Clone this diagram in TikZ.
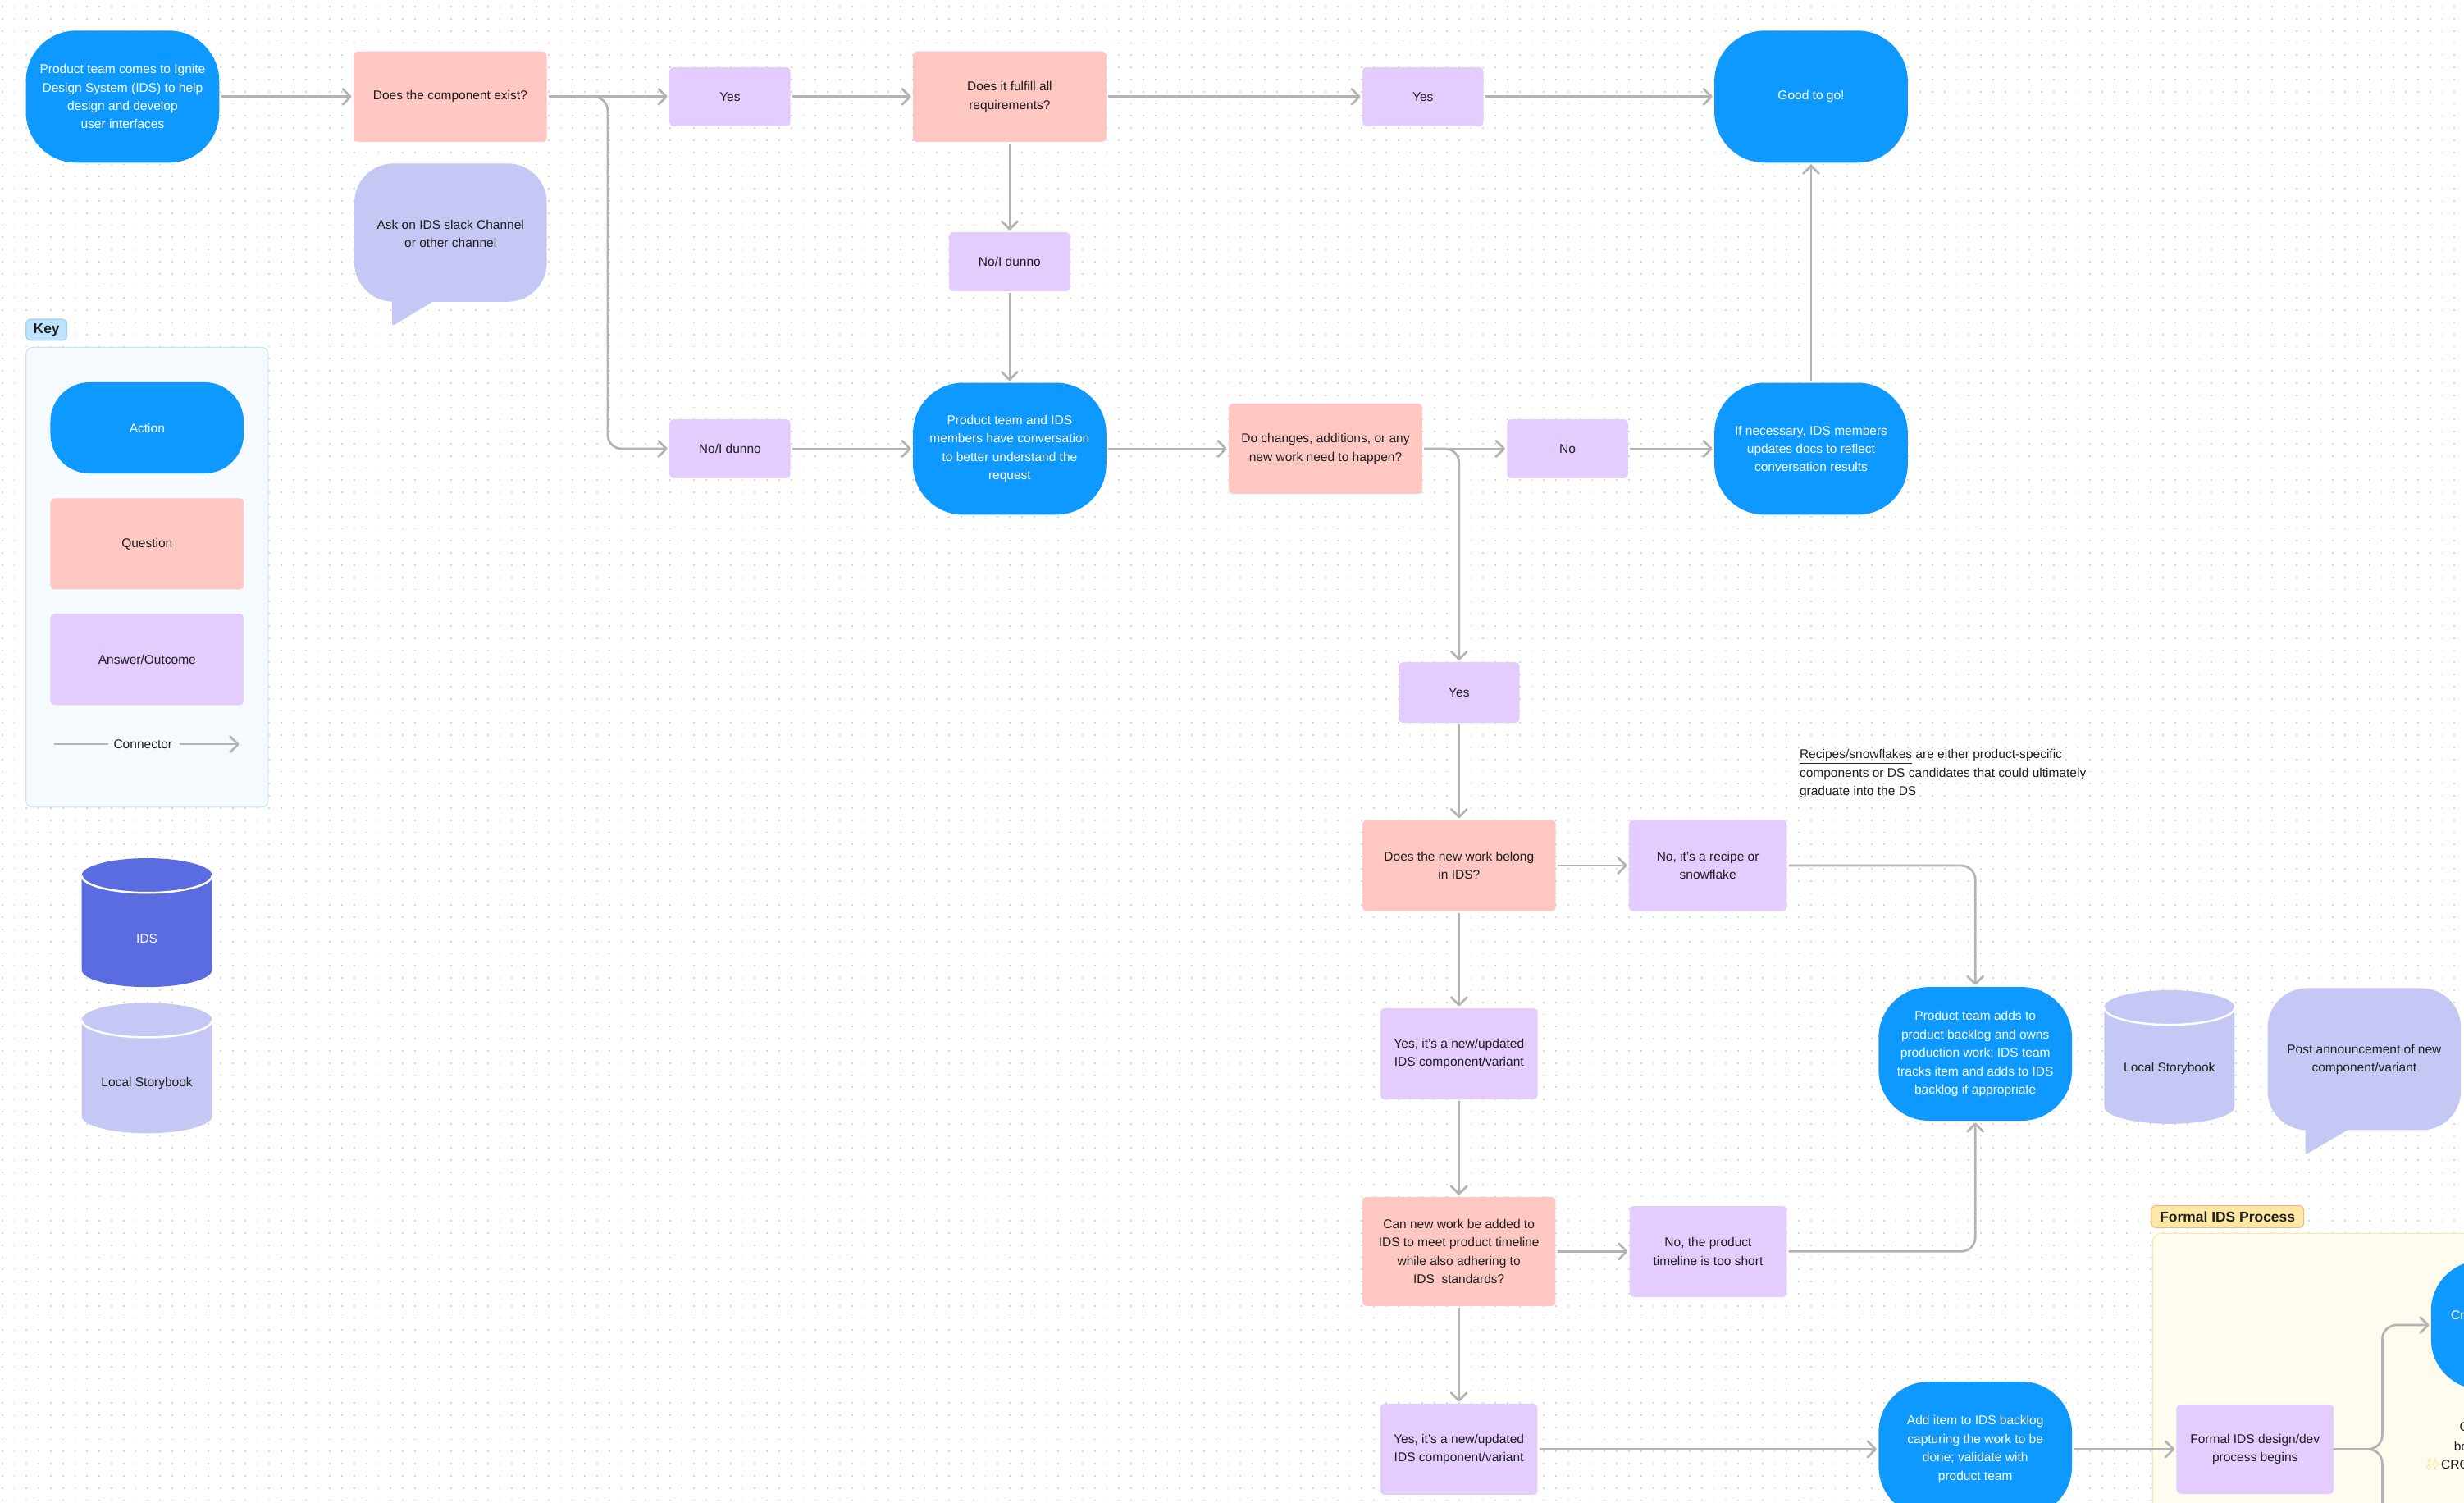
\documentclass[tikz,border=0pt]{standalone}
\usepackage{fontspec}
\setmainfont{Liberation Sans}
\newfontfamily\emojifont{Noto Emoji}
\usetikzlibrary{arrows.meta}
\definecolor{actblue}{HTML}{0D99FF}
\definecolor{qpink}{HTML}{FFC7C2}
\definecolor{apurple}{HTML}{E4CCFF}
\definecolor{bubcol}{HTML}{C5C8F4}
\definecolor{idscol}{HTML}{5B6BE0}
\definecolor{conncol}{HTML}{B3B3B3}
\definecolor{txtdark}{HTML}{1E1E1E}
\definecolor{dotcol}{HTML}{D6D6D6}
\definecolor{keyfill}{HTML}{F5FAFF}
\definecolor{keyedge}{HTML}{C9E3FA}
\definecolor{keylabfill}{HTML}{BDE3FF}
\definecolor{keylabedge}{HTML}{A6CFF2}
\definecolor{formfill}{HTML}{FFFBEF}
\definecolor{formedge}{HTML}{FBE7A8}
\definecolor{formlabfill}{HTML}{FFE8A3}
\definecolor{formlabedge}{HTML}{EDB98A}
\definecolor{sparkcol}{HTML}{F6DB7A}
\newcommand{\drawcyl}[5]{%
  \fill[#5] (#1,{#3+11}) -- (#1,{#4-11}) arc[start angle=180,end angle=0,x radius={(#2-#1)/2},y radius=11] -- (#2,{#3+11}) arc[start angle=0,end angle=-180,x radius={(#2-#1)/2},y radius=11] -- cycle;
  \draw[white,line width=1.3pt] (#1,{#3+11}) arc[start angle=180,end angle=0,x radius={(#2-#1)/2},y radius=11];}
\begin{document}
\begin{tikzpicture}[x=1pt,y=-1pt,
  every node/.style={font=\fontsize{8.1}{11.7}\selectfont, text=txtdark, align=center, inner sep=0pt},
  action/.style={fill=actblue, text=white, rounded corners=32pt, minimum width=123pt, minimum height=84pt},
  question/.style={fill=qpink, rounded corners=2.5pt, minimum width=123pt, minimum height=57.5pt},
  answer/.style={fill=apurple, rounded corners=2.5pt, minimum width=77pt, minimum height=37.5pt},
  wideanswer/.style={answer, minimum width=100pt, minimum height=57.5pt},
  conn/.style={draw=conncol, line width=1.4pt, -{Straight Barb[length=5pt,width=10pt,round]}, shorten >=1pt, shorten <=1pt},
  connplain/.style={draw=conncol, line width=1.4pt, line cap=round},
  bubble/.style={fill=bubcol},
  tag/.style={font=\fontsize{9.1}{11}\selectfont\bfseries, rounded corners=3pt, line width=0.6pt}
]
\useasboundingbox (0,0) rectangle (1568,956);
\clip (0,0) rectangle (1568,956);
\fill[white] (0,0) rectangle (1568,956);
\foreach \i in {0,...,123} {\draw[dotcol, line width=0.9pt, dash pattern=on 0.9pt off 6.825pt] (0.95,{4.2+\i*7.725}) -- (1568,{4.2+\i*7.725});}

% ---------- Key ----------
\node[draw=keyedge, fill=keyfill, rounded corners=4pt, line width=0.6pt, minimum width=154pt, minimum height=292.5pt] (keybox) at (93.6,367.3) {};
\node[tag, draw=keylabedge, fill=keylabfill, minimum width=26pt, minimum height=13.5pt] (keytag) at (29.6,209.8) {Key};
\node[action, rounded corners=25pt, minimum height=58pt] (keyaction) at (93.6,272.2) {Action};
\node[question, minimum height=58pt] (keyq) at (93.6,346) {Question};
\node[answer, minimum width=123pt, minimum height=58pt] (keya) at (93.6,419.5) {Answer/Outcome};
\coordinate (keyconnL) at (34.8,473.5);
\coordinate (keyconnR) at (152.2,473.5);
\node[inner xsep=3.6pt] (keyconntext) at (91,473.5) {Connector};
\draw[connplain] (keyconnL) -- (keyconntext);
\draw[conn, shorten >=0pt] (keyconntext) -- (keyconnR);

% ---------- cylinders ----------
\drawcyl{52}{135}{546}{628}{idscol}
\node[text=white] (idslabel) at (93.5,597) {IDS};
\drawcyl{52}{135}{638}{721}{bubcol}
\node (lsbleft) at (93.5,689) {Local Storybook};
\drawcyl{1339}{1422}{630}{715}{bubcol}
\node (lsbright) at (1380.5,680) {Local Storybook};

% ---------- speech bubbles ----------
\fill[bubble, rounded corners=25pt] (225.5,104) rectangle (348,192);
\fill[bubble, rounded corners=1.5pt] (249.6,178) -- (249.6,207.5) -- (276,191.5) -- (276,178) -- cycle;
\node (ask) at (286.7,148.6) {Ask on IDS slack Channel\\or other channel};
\fill[bubble, rounded corners=25pt] (1443,628.7) rectangle (1566,719);
\fill[bubble, rounded corners=1.5pt] (1467,705) -- (1467,734.7) -- (1494.6,718.5) -- (1494.6,705) -- cycle;
\node (post) at (1504.5,674.2) {Post announcement of new\\component/variant};

% ---------- formal process frame ----------
\node[draw=formedge, fill=formfill, rounded corners=5pt, line width=0.6pt, minimum width=300pt, minimum height=250pt, anchor=north west] (formalbox) at (1369.5,784.5) {};
\node[tag, draw=formlabedge, fill=formlabfill, minimum width=97pt, minimum height=14pt] (formaltag) at (1417.5,774) {Formal IDS Process};

% ---------- flow nodes ----------
\node[action] (start) at (78,61.5) {Product team comes to Ignite\\Design System (IDS) to help\\design and develop\\user interfaces};
\node[question] (q1) at (286.5,61.5) {Does the component exist?};
\node[answer] (yes1) at (464.5,61.5) {Yes};
\node[question] (q2) at (642.5,61.5) {Does it fulfill all\\requirements?};
\node[answer] (yes2) at (905.5,61.5) {Yes};
\node[action] (good) at (1152.5,61.5) {Good to go!};
\node[answer] (ni2) at (642.5,166.5) {No/I dunno};
\node[answer] (ni1) at (464.5,285.5) {No/I dunno};
\node[action] (conv) at (642.5,285.5) {Product team and IDS\\members have conversation\\to better understand the\\request};
\node[question] (q3) at (843.5,285.5) {Do changes, additions, or any\\new work need to happen?};
\node[answer] (no) at (997.5,285.5) {No};
\node[action] (ifnec) at (1152.5,285.5) {If necessary, IDS members\\updates docs to reflect\\conversation results};
\node[answer, minimum height=38.5pt] (yes3) at (928.5,440.6) {Yes};
\node[question, minimum height=58pt] (q4) at (928.5,550.7) {Does the new work belong\\in IDS?};
\node[wideanswer, minimum width=100.5pt, minimum height=58pt] (recipe) at (1086.8,550.7) {No, it's a recipe or\\snowflake};
\node[anchor=west, align=left] (note) at (1145,492.3) {\underline{Recipes/snowflakes} are either product-specific\\components or DS candidates that could ultimately\\graduate into the DS};
\node[wideanswer, minimum height=58pt] (yes4) at (928.5,670.4) {Yes, it's a new/updated\\IDS component/variant};
\node[action, minimum height=85pt] (prodadds) at (1257,670.5) {Product team adds to\\product backlog and owns\\production work; IDS team\\tracks item and adds to IDS\\backlog if appropriate};
\node[question, minimum height=69.3pt] (q5) at (928.4,796.2) {Can new work be added to\\IDS to meet product timeline\\while also adhering to\\IDS\ \ standards?};
\node[wideanswer, minimum height=57.8pt] (timeline) at (1087,796.2) {No, the product\\timeline is too short};
\node[wideanswer, minimum height=58pt] (yes5) at (928.4,922) {Yes, it's a new/updated\\IDS component/variant};
\node[action, minimum height=86pt] (additem) at (1257,922) {Add item to IDS backlog\\capturing the work to be\\done; validate with\\product team};
\node[wideanswer, minimum height=57pt] (formal) at (1435,922) {Formal IDS design/dev\\process begins};
\node[action, minimum height=82pt] (cr) at (1608.5,843) {};
\node[anchor=west, text=white] (crtext) at (1559.5,837) {Cr};
\node[anchor=west] (partc) at (1565,908) {C};
\node[anchor=west] (partbo) at (1561.5,920) {bo};
\node[anchor=west] (partcros) at (1543,932) {{\emojifont\textcolor{sparkcol}{✨}}CROS};

% ---------- connectors ----------
\draw[conn] (start) -- (q1);
\draw[conn] (q1) -- (yes1);
\draw[conn, rounded corners=9pt] (q1.east) -- ++(38.5,0) |- (ni1.west);
\draw[conn] (yes1) -- (q2);
\draw[conn] (q2) -- (yes2);
\draw[conn] (yes2) -- (good);
\draw[conn] (q2) -- (ni2);
\draw[conn] (ni2) -- (conv);
\draw[conn] (ni1) -- (conv);
\draw[conn] (conv) -- (q3);
\draw[conn] (q3) -- (no);
\draw[conn, rounded corners=9pt] (q3.east) -| (yes3.north);
\draw[conn] (no) -- (ifnec);
\draw[conn] (ifnec) -- (good);
\draw[conn] (yes3) -- (q4);
\draw[conn] (q4) -- (recipe);
\draw[conn, rounded corners=9pt] (recipe.east) -| (prodadds.north);
\draw[conn] (q4) -- (yes4);
\draw[conn] (yes4) -- (q5);
\draw[conn] (q5) -- (timeline);
\draw[conn, rounded corners=9pt] (timeline.east) -| (prodadds.south);
\draw[conn] (q5) -- (yes5);
\draw[conn] (yes5) -- (additem);
\draw[conn] (additem) -- (formal);
\coordinate (fork) at (1516,922);
\coordinate (downend) at (1516,990);
\draw[conn, rounded corners=9pt] (formal.east) -- (fork) |- (cr.west);
\draw[connplain, rounded corners=9pt] (formal.east) -- (fork) -- (downend);
\end{tikzpicture}
\end{document}
